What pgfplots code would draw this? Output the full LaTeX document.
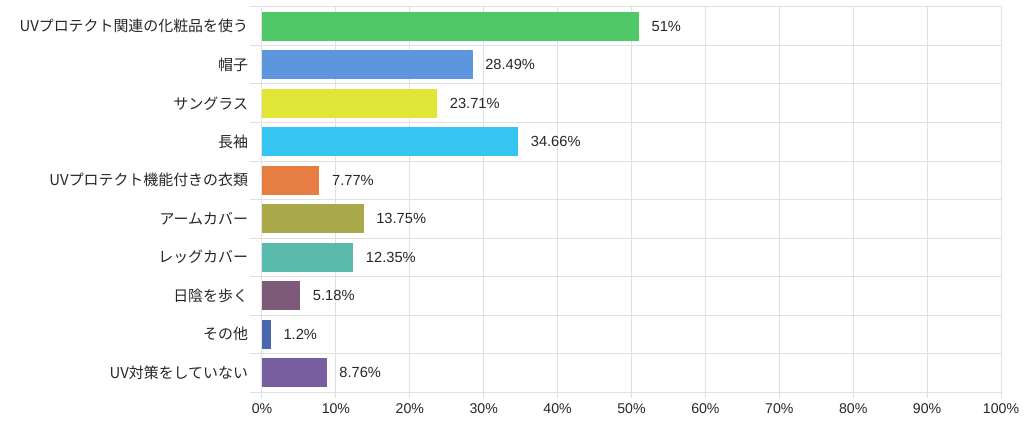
\documentclass[border=0pt]{standalone}
\usepackage{fontspec}
\setmainfont{Liberation Sans}
\newfontfamily\jp{Noto Sans CJK JP}
\usepackage{pgfplots}
\pgfplotsset{compat=1.18}
\definecolor{c1}{HTML}{50C868}
\definecolor{c2}{HTML}{5D96DC}
\definecolor{c3}{HTML}{E1E535}
\definecolor{c4}{HTML}{36C5F0}
\definecolor{c5}{HTML}{E67E43}
\definecolor{c6}{HTML}{A9A84A}
\definecolor{c7}{HTML}{5BBAAE}
\definecolor{c8}{HTML}{7D5A78}
\definecolor{c9}{HTML}{4A66AC}
\definecolor{c10}{HTML}{765EA0}
\definecolor{gridc}{HTML}{E0E0E0}
\begin{document}
\begin{tikzpicture}
\path[use as bounding box] (-196.5pt,-25.5pt) rectangle (571.5pt,294pt);
\begin{axis}[
  at={(0,0)}, anchor=south west,
  scale only axis, width=554.25pt, height=288.75pt,
  xbar, bar shift=0pt, bar width=21.75pt,
  xmin=0, xmax=100,
  ymin=-0.5, ymax=9.5, y dir=reverse,
  tick pos=left,
  xtick={0,10,...,100},
  xticklabel={\pgfmathprintnumber{\tick}\%},
  /pgf/number format/assume math mode=true,
  ytick={0,...,9},
  yticklabels={UVプロテクト関連の化粧品を使う,帽子,サングラス,長袖,UVプロテクト機能付きの衣類,アームカバー,レッグカバー,日陰を歩く,その他,UV対策をしていない},
  yticklabel style={font=\jp\fontsize{11.2pt}{13pt}\selectfont, xshift=-2.5pt, text=black!85},
  xticklabel style={font=\fontsize{10.6pt}{12pt}\selectfont, yshift=-1pt, text=black!85},
  extra y ticks={-0.5,0.5,...,9.5},
  extra y tick labels={},
  extra y tick style={grid=major, major tick length=9pt, ytick style={draw=gridc, line width=0.75pt}},
  xmajorgrids,
  grid style={gridc, line width=0.75pt},
  axis line style={gridc, line width=0.75pt},
  tick align=outside,
  major tick length=4.5pt,
  xtick style={gridc, line width=0.75pt},
  ytick style={draw=none},
  nodes near coords={\pgfmathprintnumber{\pgfplotspointmeta}\%},
  nodes near coords style={font=\fontsize{11pt}{12pt}\selectfont, anchor=west, xshift=6pt, text=black!85},
  every axis plot/.append style={draw=none},
]
\addplot[fill=c1] coordinates {(51,0)};
\addplot[fill=c2] coordinates {(28.49,1)};
\addplot[fill=c3] coordinates {(23.71,2)};
\addplot[fill=c4] coordinates {(34.66,3)};
\addplot[fill=c5] coordinates {(7.77,4)};
\addplot[fill=c6] coordinates {(13.75,5)};
\addplot[fill=c7] coordinates {(12.35,6)};
\addplot[fill=c8] coordinates {(5.18,7)};
\addplot[fill=c9] coordinates {(1.2,8)};
\addplot[fill=c10] coordinates {(8.76,9)};
\end{axis}
\end{tikzpicture}
\end{document}
